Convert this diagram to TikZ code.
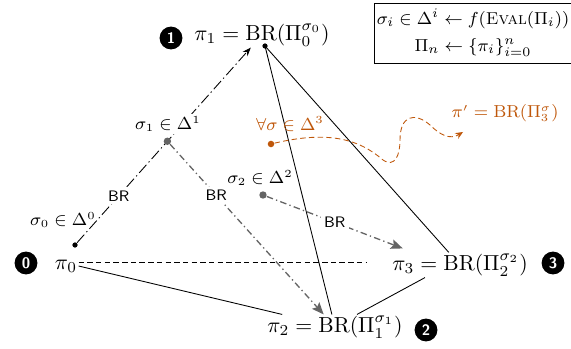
\documentclass[tikz,border=0pt]{standalone}
\usepackage{amsmath,amssymb}
\usetikzlibrary{arrows.meta,positioning,calc}
\definecolor{rouille}{RGB}{191,87,10}
\definecolor{gris}{RGB}{100,100,100}
\tikzset{
  num/.style={circle,fill=black,text=white,font=\sffamily\bfseries\scriptsize,inner sep=0pt,minimum size=10.5pt},
  pol/.style={inner sep=0.5pt},
  lbl/.style={font=\fontsize{7.6}{9}\selectfont,inner sep=1pt},
  brlbl/.style={fill=white,text=black,inner sep=1.5pt,font=\sffamily\scriptsize},
  pnoir/.style={circle,fill=black,inner sep=0pt,minimum size=2.4pt},
  pgris/.style={circle,fill=gris,inner sep=0pt,minimum size=3.4pt},
  tiretpt/.style={dash pattern=on 5pt off 1.5pt on 0.6pt off 1.5pt},
  tiretgris/.style={gris,line width=0.6pt,dash pattern=on 3pt off 1.5pt on 0.6pt off 1.5pt},
}

\begin{document}
\begin{tikzpicture}[x=0.46pt,y=-0.46pt]
            \useasboundingbox (0,0) rectangle (571,349);
            % Les politiques
            \node[pol] (p0) at (66,266) {$\pi_0$};
            \node[pol] (p1) at (262,35) {$\pi_1 = \mathrm{BR}(\Pi_0^{\sigma_0})$};
            \node[pol] (p2) at (335,327) {$\pi_2 = \mathrm{BR}(\Pi_1^{\sigma_1})$};
            \node[pol] (p3) at (460,265) {$\pi_3 = \mathrm{BR}(\Pi_2^{\sigma_2})$};
            % Les numeros
            \node[num] (n0) at (26,263) {0};
            \node[num] (n1) at (171,38) {1};
            \node[num] (n2) at (426,330) {2};
            \node[num] (n3) at (553,263) {3};
            % Le cadre
            \node[draw,thin,align=center,minimum width=85.6pt,minimum height=27.6pt,inner sep=1pt,
                  font=\fontsize{7.9}{12.4}\selectfont] (cadre) at (473,33)
                {$\sigma_i \in \Delta^i \leftarrow f(\textsc{Eval}(\Pi_i))$\\ $\Pi_n \leftarrow \{\pi_i\}_{i=0}^{n}$};
            % Les aretes
            \coordinate (p1dot) at (265,46);
            \fill (p1dot) circle (1.2pt);
            \draw[thin] (p1dot) -- (p2);
            \draw[thin] (p1dot) -- (p3);
            \draw[thin] ($(p3.south)+(-35,0)$) -- ($(p2.north)+(22,0)$);
            \draw[thin] (p0.east) -- (p2);
            \coordinate (d0) at ($(p0.east)+(0,-4)$);
            \draw[thin,dash pattern=on 2.5pt off 1.5pt,shorten >=11pt] (d0) -- (d0 -| p3.west);
            % Premier meilleur reponse
            \node[pnoir] (s0) at (75,245) {};
            \node[lbl] (s0lab) at (63,220) {$\sigma_0 \in \Delta^0$};
            \draw[thin,tiretpt,-{Stealth[length=4pt,width=3pt]}] (s0) -- (p1)
                node[brlbl,pos=0.24] {BR}
                coordinate[pos=0.52] (s1);
            \node[lbl,fill=white] (s1lab) at (168,124) {$\sigma_1 \in \Delta^1$};
            % Les suivantes
            \node[pgris] (s1dot) at (s1) {};
            \draw[tiretgris,-{Stealth[length=5.5pt,width=4.5pt,inset=1pt]}] (s1dot) -- (p2)
                node[brlbl,pos=0.3] {BR};
            \node[pgris] (s2) at (263,195) {};
            \node[lbl] (s2lab) at (260,178) {$\sigma_2 \in \Delta^2$};
            \draw[tiretgris,-{Stealth[length=5.5pt,width=4.5pt,inset=1pt]}] (s2) -- ($(p3.north west)+(12,-4)$)
                node[brlbl,pos=0.5] {BR};
            % Le cas general
            \node[circle,fill=rouille,inner sep=0pt,minimum size=3pt] (so) at (271,144) {};
            \node[lbl,text=rouille] (solab) at (290,124) {$\forall\sigma \in \Delta^3$};
            \coordinate (fin) at (463,132);
            \node[lbl,text=rouille] (pflab) at (505,113) {$\pi' = \mathrm{BR}(\Pi_3^{\sigma})$};
            \draw[rouille,thin,dash pattern=on 2.5pt off 1.5pt,-{Stealth[length=3.5pt,width=3pt]}] (so)
                .. controls (330,130) and (360,140) .. (383,160)
                .. controls (395,168) and (400,155) .. (400,140)
                .. controls (400,115) and (415,112) .. (430,125)
                .. controls (440,135) and (450,140) .. (fin);
        \end{tikzpicture}
\end{document}
